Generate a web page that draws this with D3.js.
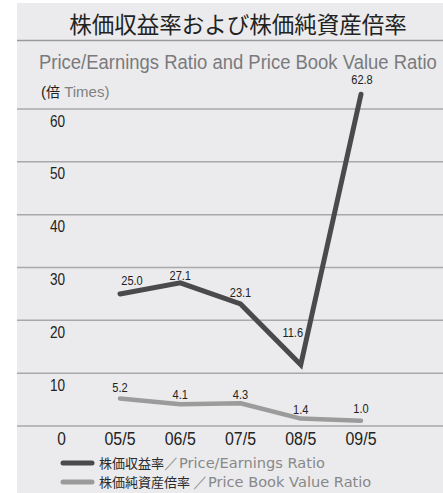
<!DOCTYPE html>
<html><head><meta charset="utf-8">
<script src="https://cdn.jsdelivr.net/npm/d3@7"></script>
<style>html,body{margin:0;padding:0;background:#fff;}svg{display:block;}</style>
</head><body>
<script>
const categories = ["05/5","06/5","07/5","08/5","09/5"];
const perValues = [25.0, 27.1, 23.1, 11.6, 62.8];
const pbrValues = [5.2, 4.1, 4.3, 1.4, 1.0];
const yTicks = [0,10,20,30,40,50,60];
const titleJa = "株価収益率および株価純資産倍率";
const titleEn = "Price/Earnings Ratio and Price Book Value Ratio";
const legendJa = ["株価収益率", "株価純資産倍率 "];
const legendEn = ["／Price/Earnings Ratio", "／Price Book Value Ratio"];

// label offsets (styling, not data)
const perLabelOffset = [[12,-9],[0,-3],[0,-7],[-8,-28],[1,-10]];
const pbrLabelOffset = [[0,-7],[0,-5],[0,-4],[0,-5],[0,-8]];

const W=443,H=493;
const sans = "'Liberation Sans',Arial,sans-serif";
const cjk = "'Noto Sans CJK JP',sans-serif";
const svg = d3.select("body").append("svg").attr("width",W).attr("height",H);

// condensed text helper: regular sans squeezed horizontally
function ctext(parent, x, y, str, size, anchor, sx, fill){
  return parent.append("text")
    .attr("transform",`translate(${x},${y}) scale(${sx},1)`)
    .attr("text-anchor",anchor).attr("font-family",sans).attr("font-size",size)
    .attr("fill",fill||"#222").text(str);
}

svg.append("rect").attr("x",17).attr("y",3).attr("width",W-17).attr("height",H-3).attr("fill","#ebebed");

svg.append("text").attr("x",238).attr("y",33).attr("text-anchor","middle")
  .attr("font-family",cjk).attr("font-size",22.5).attr("fill","#222").text(titleJa);
svg.append("line").attr("x1",17).attr("x2",W).attr("y1",40.5).attr("y2",40.5)
  .attr("stroke","#9a9a9a").attr("stroke-width",1.5);
const sub = ctext(svg, 39, 69, titleEn, 21, "start", 1, "#7a7a7c");
const subW = sub.node().getComputedTextLength();
sub.attr("transform",`translate(39,69) scale(${398/subW},1)`);

const unit = svg.append("text").attr("x",41).attr("y",97).attr("font-size",15);
unit.append("tspan").attr("font-family",sans).attr("fill","#222").text("(");
unit.append("tspan").attr("font-family",cjk).attr("fill","#222").attr("font-size",14).text("倍");
unit.append("tspan").attr("font-family",sans).attr("fill","#808080").text(" Times)");

const y = d3.scaleLinear().domain([0,60]).range([426,109]);
const x = d3.scalePoint().domain(categories).range([120,361]);

// gridlines
svg.append("g").selectAll("line").data(yTicks).join("line")
  .attr("x1",17).attr("x2",W).attr("y1",d=>y(d)).attr("y2",d=>y(d))
  .attr("stroke","#a8a8aa").attr("stroke-width",1.5);

// y tick labels
const gy = svg.append("g");
yTicks.forEach(t=>{
  if(t===0) ctext(gy, 61.5, 445, String(t), 18, "middle", 0.86);
  else ctext(gy, 65, y(t)+17.5, String(t), 16, "end", 0.85);
});

// x labels
const gx = svg.append("g");
categories.forEach(c=> ctext(gx, x(c), 445, c, 18.5, "middle", 0.86));

const line = d3.line().x((d,i)=>x(categories[i])).y(d=>y(d));
svg.append("path").datum(pbrValues).attr("d",line).attr("fill","none")
  .attr("stroke","#9b9b9b").attr("stroke-width",4.5).attr("stroke-linecap","round").attr("stroke-linejoin","round");
svg.append("path").datum(perValues).attr("d",line).attr("fill","none")
  .attr("stroke","#4a4a4c").attr("stroke-width",5).attr("stroke-linecap","round").attr("stroke-linejoin","miter");

const gl = svg.append("g");
perValues.forEach((v,i)=> ctext(gl, x(categories[i])+perLabelOffset[i][0], y(v)+perLabelOffset[i][1], v.toFixed(1), 13.5, "middle", 0.82));
pbrValues.forEach((v,i)=> ctext(gl, x(categories[i])+pbrLabelOffset[i][0], y(v)+pbrLabelOffset[i][1], v.toFixed(1), 13.5, "middle", 0.82));

// legend
const legColors = ["#4a4a4c","#9b9b9b"];
const legY = [463, 482];
legendJa.forEach((jp,i)=>{
  svg.append("line").attr("x1",63).attr("x2",92).attr("y1",legY[i]).attr("y2",legY[i])
    .attr("stroke",legColors[i]).attr("stroke-width",5).attr("stroke-linecap","round");
  const t = svg.append("text").attr("x",99).attr("y",legY[i]+5).attr("font-size",14.6);
  t.append("tspan").attr("font-family",cjk).attr("fill","#2a2a2a").attr("font-size",13).text(jp);
  t.append("tspan").attr("font-family","'DejaVu Sans',sans-serif").attr("fill","#888").text(legendEn[i]);
});
</script>
</body></html>
